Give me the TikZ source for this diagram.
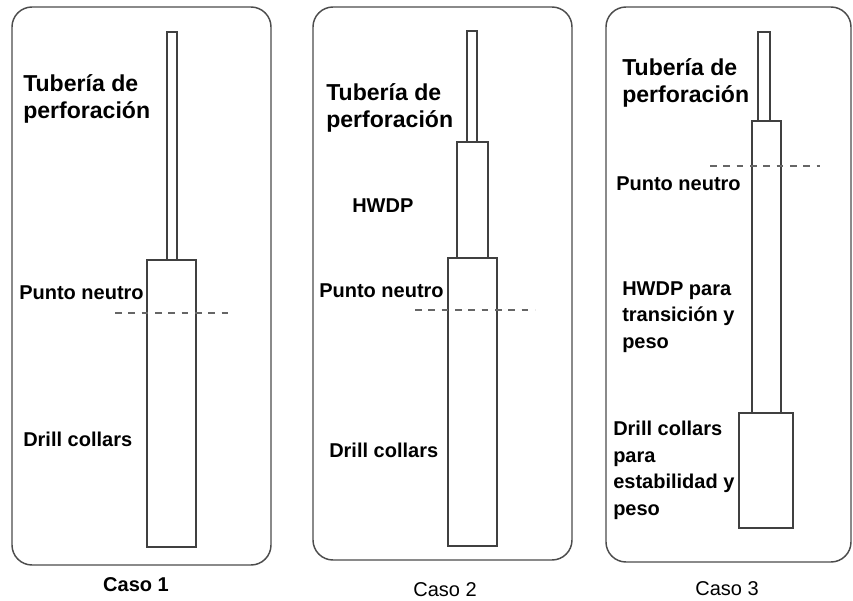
\documentclass[tikz,border=0pt]{standalone}
\usepackage{fontspec}
\setmainfont{Liberation Sans}
\usetikzlibrary{positioning}

\tikzset{
  caja/.style={draw=black!70, line width=1.1pt, rounded corners=15pt},
  tubo/.style={draw=black!75, line width=1pt, fill=white},
  neutro/.style={draw=black!60, line width=0.9pt, dash pattern=on 5pt off 5pt},
  rotulo/.style={anchor=base west, inner sep=0pt, align=left,
    font=\bfseries\fontsize{15}{19.8}\selectfont},
  titulo/.style={rotulo, font=\bfseries\fontsize{17.3}{20.25}\selectfont},
  caso/.style={anchor=base, inner sep=0pt, font=\fontsize{15}{18}\selectfont}
}

\begin{document}
\begin{tikzpicture}[x=0.75pt,y=-0.75pt]
    \useasboundingbox[fill=white] (0,0) rectangle (853,600);

    % Caso 1
    \draw[caja] (12,7) rectangle (271,565);
    \draw[tubo] (167,32) rectangle (177,260);
    \draw[tubo] (147,260) rectangle (196,547);
    \draw[neutro] (115,313) -- (233,313);
    \node[titulo] (tub1) at (23,118) {Tubería de\\perforación};
    \node[rotulo] (pn1) at (19,299) {Punto neutro};
    \node[rotulo] (dc1) at (23,446) {Drill collars};
    \node[caso, font=\bfseries\fontsize{15}{18}\selectfont] (caso1) at (136,591) {Caso 1};

    % Caso 2
    \draw[caja] (313,7) rectangle (572,560);
    \draw[tubo] (467,31) rectangle (477,142);
    \draw[tubo] (457,142) rectangle (488,258);
    \draw[tubo] (448,258) rectangle (497,546);
    \draw[neutro] (415,310) -- (535,310);
    \node[titulo] (tub2) at (326,127) {Tubería de\\perforación};
    \node[rotulo] (hw2) at (352,212) {HWDP};
    \node[rotulo] (pn2) at (319,297) {Punto neutro};
    \node[rotulo] (dc2) at (329,457) {Drill collars};
    \node[caso] (caso2) at (445,596) {Caso 2};

    % Caso 3
    \draw[caja] (606,7) rectangle (851,562);
    \draw[tubo] (758,32) rectangle (770,121);
    \draw[tubo] (752,121) rectangle (781,413);
    \draw[tubo] (739,413) rectangle (793,528);
    \draw[neutro] (710,166) -- (820,166);
    \node[titulo] (tub3) at (622,102) {Tubería de\\perforación};
    \node[rotulo] (pn3) at (616,190) {Punto neutro};
    \node[rotulo] (hw3) at (622,348) {HWDP para\\transición y\\peso};
    \node[rotulo] (dc3) at (613,515) {Drill collars\\para\\estabilidad y\\peso};
    \node[caso] (caso3) at (727,595) {Caso 3};
\end{tikzpicture}
\end{document}
